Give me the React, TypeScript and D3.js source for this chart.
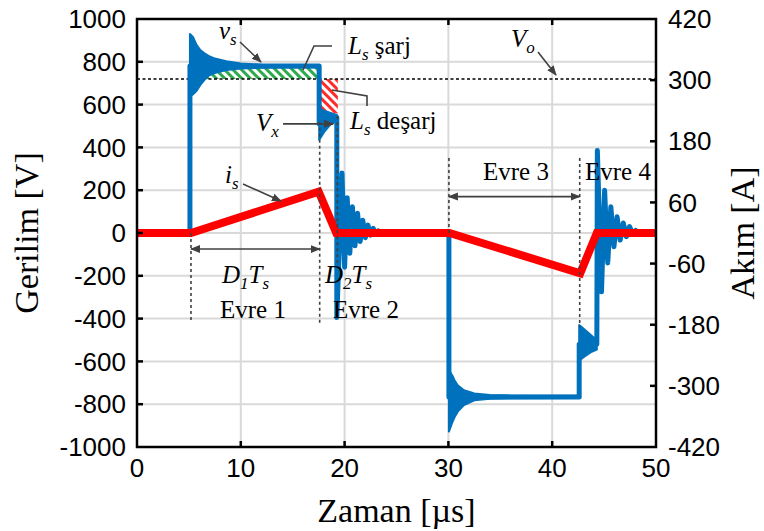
import React from 'react';
import * as d3 from 'd3';

// chart size and plot box
const W = 764;
const H = 531;
const box = { left: 137, right: 656, top: 19, bottom: 447 };

// axis ticks
const tTicks = [0, 10, 20, 30, 40, 50];
const vTicks = [-1000, -800, -600, -400, -200, 0, 200, 400, 600, 800, 1000];
const iTicks = [-420, -300, -180, -60, 60, 180, 300, 420];

// vs: time (µs), voltage (V)
const vsLine: [number, number][] = [
  [0, 0], [5.1, 0], [5.1, 780], [17.55, 780], [17.55, 510], [19.25, 540],
  [19.25, -395], [19.75, 280], [20.0, -160], [20.25, 165], [20.5, -95], [20.75, 123],
  [21.0, -60], [21.25, 92], [21.5, -40], [21.75, 60], [22.0, -22], [22.25, 37],
  [22.5, -10], [22.75, 22], [23.0, -5], [23.25, 10], [23.6, 0],
  [30.05, 0], [30.05, -766], [42.6, -766], [42.6, -520], [44.3, -520],
  [44.35, 385], [44.75, -275], [45.05, 200], [45.35, -140], [45.65, 123], [45.95, -64],
  [46.25, 76], [46.55, -33], [46.85, 47], [47.15, -17], [47.45, 30], [47.75, -5],
  [48.05, 12], [48.4, 0], [50, 0],
];

// fast ringing envelopes: time, upper V, lower V
const ringOn: [number, number, number][] = [
  [5.1, 930, 640], [5.4, 915, 648], [5.75, 878, 665], [6.1, 855, 692], [6.5, 840, 716],
  [6.9, 828, 735], [7.5, 815, 748], [8.6, 803, 762], [10, 792, 769], [12, 786, 772], [17.5, 782, 774],
];
const ringMidPos: [number, number, number][] = [
  [17.55, 582, 435], [18.0, 572, 470], [18.6, 562, 505], [19.25, 552, 525],
];
const ringOff: [number, number, number][] = [
  [30.05, -640, -928], [30.4, -668, -882], [30.6, -690, -860], [30.9, -712, -835],
  [31.5, -735, -804], [32.5, -750, -782], [34, -757, -775], [36, -760, -772], [42.6, -761, -771],
];
const ringMidNeg: [number, number, number][] = [
  [42.6, -430, -595], [43.2, -455, -575], [43.8, -480, -555], [44.3, -500, -545],
];

// is: time (µs), current (A)
const isLine: [number, number][] = [
  [0, 0], [5.2, 0], [17.5, 81], [19.2, 0], [30.1, 0], [42.7, -79], [44.3, 0], [50, 0],
];

const Vo = 720;
// hatched regions: time, top V, bottom V
const chargeArea: [number, number, number][] = [[6.3, 780, Vo], [17.5, 780, Vo]];
const dischargeArea: [number, number, number][] = [[17.6, Vo, 570], [19.35, Vo, 558]];

// dotted markers: time, from V, to V
const markers: [number, number, number][] = [
  [5.2, 0, -420], [17.6, 520, -420], [19.3, 545, -140], [30.05, 350, 0], [42.65, 350, -440],
];

const x = d3.scaleLinear().domain([0, 50]).range([box.left, box.right]);
const yV = d3.scaleLinear().domain([-1000, 1000]).range([box.bottom, box.top]);
const yI = d3.scaleLinear().domain([-420, 420]).range([box.bottom, box.top]);

const blue = '#0072BD';
const grey = '#404040';
const serif = '"Liberation Serif", "Times New Roman", serif';
const sans = '"Liberation Sans", Arial, sans-serif';

const App = () => {
  const vPath = d3.line<[number, number]>().x(d => x(d[0])).y(d => yV(d[1]))(vsLine) || '';
  const iPath = d3.line<[number, number]>().x(d => x(d[0])).y(d => yI(d[1]))(isLine) || '';
  const band = d3.area<[number, number, number]>()
    .x(d => x(d[0])).y0(d => yV(d[2])).y1(d => yV(d[1]));

  const sub = (s: string) => (
    <tspan dy={6} fontSize={17}>{s}</tspan>
  );

  return (
    <svg width={W} height={H} style={{ position: 'absolute', left: 0, top: 0, background: '#fff' }}>
      <defs>
        <clipPath id="plot">
          <rect x={box.left} y={box.top} width={box.right - box.left} height={box.bottom - box.top} />
        </clipPath>
        <pattern id="green" width={6} height={6} patternUnits="userSpaceOnUse" patternTransform="rotate(-45)">
          <rect width={6} height={6} fill="#fff" />
          <rect width={3} height={6} fill="#2eaa4e" />
        </pattern>
        <pattern id="red" width={6} height={6} patternUnits="userSpaceOnUse" patternTransform="rotate(-45)">
          <rect width={6} height={6} fill="#fff" />
          <rect width={3} height={6} fill="#ff2a2a" />
        </pattern>
        <marker id="head" viewBox="0 0 10 10" refX={9} refY={5} markerWidth={10} markerHeight={10}
          markerUnits="userSpaceOnUse" orient="auto-start-reverse">
          <path d="M0,1 L10,5 L0,9 Z" fill={grey} />
        </marker>
      </defs>

      {/* grid */}
      <g stroke="#d9d9d9" strokeWidth={2}>
        {tTicks.slice(1, -1).map(t => (
          <line key={'gx' + t} x1={x(t)} x2={x(t)} y1={box.top} y2={box.bottom} />
        ))}
        {vTicks.slice(1, -1).map(v => (
          <line key={'gy' + v} x1={box.left} x2={box.right} y1={yV(v)} y2={yV(v)} />
        ))}
      </g>

      <g clipPath="url(#plot)">
        <path d={band(chargeArea) || ''} fill="url(#green)" />
        <path d={band(dischargeArea) || ''} fill="url(#red)" />
        <line x1={box.left} x2={box.right} y1={yV(Vo)} y2={yV(Vo)} stroke="#000" strokeWidth={1.5} strokeDasharray="3,2.5" />
        {[ringOn, ringMidPos, ringOff, ringMidNeg].map((r, i) => (
          <path key={i} d={band(r) || ''} fill={blue} stroke={blue} strokeWidth={2} strokeLinejoin="round" />
        ))}
        <path d={vPath} fill="none" stroke={blue} strokeWidth={5} strokeLinejoin="round" />
        <path d={iPath} fill="none" stroke="#ff0000" strokeWidth={8} strokeLinejoin="miter" />
        {markers.map(([t, a, b]) => (
          <line key={'m' + t} x1={x(t)} x2={x(t)} y1={yV(a)} y2={yV(b)} stroke={grey} strokeWidth={1.6} strokeDasharray="3,3" />
        ))}
      </g>

      {/* axes box */}
      <g stroke="#000" strokeWidth={2.5} fill="none">
        <rect x={box.left} y={box.top} width={box.right - box.left} height={box.bottom - box.top} />
        {tTicks.slice(1, -1).map(t => (
          <g key={'tt' + t}>
            <line x1={x(t)} x2={x(t)} y1={box.bottom} y2={box.bottom - 6} />
            <line x1={x(t)} x2={x(t)} y1={box.top} y2={box.top + 6} />
          </g>
        ))}
        {vTicks.slice(1, -1).map(v => (
          <line key={'vt' + v} x1={box.left} x2={box.left + 6} y1={yV(v)} y2={yV(v)} />
        ))}
        {iTicks.slice(1, -1).map(v => (
          <line key={'it' + v} x1={box.right} x2={box.right - 6} y1={yI(v)} y2={yI(v)} />
        ))}
      </g>

      {/* tick labels */}
      <g fontFamily={sans} fontSize={26} fill="#000">
        {tTicks.map(t => (
          <text key={'tl' + t} x={x(t)} y={477} textAnchor="middle">{t}</text>
        ))}
        {vTicks.map(v => (
          <text key={'vl' + v} x={box.left - 11} y={yV(v)} dy="0.35em" textAnchor="end">{v}</text>
        ))}
        {iTicks.map(v => (
          <text key={'il' + v} x={box.right + 12} y={yI(v)} dy="0.35em" textAnchor="start">{v}</text>
        ))}
      </g>

      {/* axis titles */}
      <g fontFamily={serif} fontSize={34} fill="#000">
        <text x={(box.left + box.right) / 2} y={522} textAnchor="middle">Zaman [µs]</text>
        <text transform={`translate(38,${(box.top + box.bottom) / 2}) rotate(-90)`} textAnchor="middle">Gerilim [V]</text>
        <text transform={`translate(754,${(box.top + box.bottom) / 2}) rotate(-90)`} textAnchor="middle">Akım [A]</text>
      </g>

      {/* annotations */}
      <g stroke={grey} strokeWidth={1.6} fill="none">
        <line x1={x(5.2)} x2={x(17.6)} y1={yV(-75)} y2={yV(-75)} markerStart="url(#head)" markerEnd="url(#head)" />
        <line x1={x(30.05)} x2={x(42.65)} y1={yV(170)} y2={yV(170)} markerStart="url(#head)" markerEnd="url(#head)" />
        <line x1={240} y1={42} x2={261} y2={62} markerEnd="url(#head)" />
        <line x1={283} y1={yV(510)} x2={x(18.9)} y2={yV(510)} markerEnd="url(#head)" />
        <line x1={538} y1={52} x2={556} y2={yV(Vo) - 4} markerEnd="url(#head)" />
        <line x1={243} y1={184} x2={281} y2={201} markerEnd="url(#head)" />
        <polyline points="332,46 314,46 303,70" />
        <polyline points="332,90 367,96 367,106" />
      </g>

      <g fontFamily={serif} fontSize={25} fill="#000">
        <text x={219} y={39} fontStyle="italic">v{sub('s')}</text>
        <text x={348} y={54}><tspan fontStyle="italic">L</tspan><tspan dy={6} fontSize={17} fontStyle="italic">s</tspan><tspan dy={-6}> şarj</tspan></text>
        <text x={350} y={129}><tspan fontStyle="italic">L</tspan><tspan dy={6} fontSize={17} fontStyle="italic">s</tspan><tspan dy={-6}> deşarj</tspan></text>
        <text x={256} y={131} fontStyle="italic">V{sub('x')}</text>
        <text x={511} y={47} fontStyle="italic">V{sub('o')}</text>
        <text x={225} y={183} fontStyle="italic">i{sub('s')}</text>
        <text x={222} y={283} fontStyle="italic">D<tspan dy={6} fontSize={17}>1</tspan><tspan dy={-6}>T</tspan>{sub('s')}</text>
        <text x={325} y={283} fontStyle="italic">D<tspan dy={6} fontSize={17}>2</tspan><tspan dy={-6}>T</tspan>{sub('s')}</text>
        <text x={253} y={318} textAnchor="middle">Evre 1</text>
        <text x={366} y={318} textAnchor="middle">Evre 2</text>
        <text x={516} y={180} textAnchor="middle">Evre 3</text>
        <text x={585} y={180}>Evre 4</text>
      </g>
    </svg>
  );
};

export default App;
